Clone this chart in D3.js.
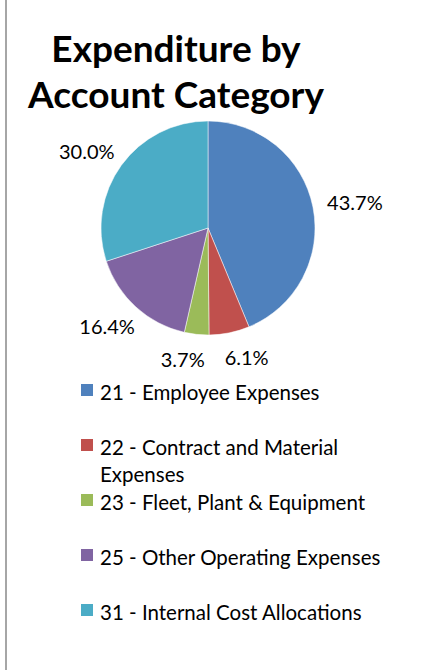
<!DOCTYPE html>
<html>
<head>
<meta charset="utf-8">
<script src="https://cdn.jsdelivr.net/npm/d3@7"></script>
<style>
  body { margin: 0; background: #fff; }
  svg { display: block; }
</style>
</head>
<body>
<div id="chart"></div>
<script>
const categories = [
  '21 - Employee Expenses',
  '22 - Contract and Material Expenses',
  '23 - Fleet, Plant & Equipment',
  '25 - Other Operating Expenses',
  '31 - Internal Cost Allocations'
];
const shares = [43.7, 6.1, 3.7, 16.4, 30.0];
const colors = ['#4F81BD', '#C0504D', '#9BBB59', '#8064A2', '#4BACC6'];
const titleLines = ['Expenditure by', 'Account Category'];

const WIDTH = 425, HEIGHT = 670;
const cx = 208, cy = 228, radius = 107;

const svg = d3.select('#chart')
  .append('svg')
    .attr('width', WIDTH)
    .attr('height', HEIGHT);

// left frame edge
svg.append('line')
  .attr('x1', 6).attr('x2', 6)
  .attr('y1', 0).attr('y2', HEIGHT)
  .attr('stroke', '#a6a6a6')
  .attr('stroke-width', 2);

const title = svg.append('text')
  .attr('text-anchor', 'middle')
  .attr('font-family', 'Lato, sans-serif')
  .attr('font-weight', 'bold')
  .attr('font-size', 37)
  .attr('fill', '#000');

title.selectAll('tspan')
  .data(titleLines)
  .join('tspan')
    .attr('x', 176)
    .attr('y', (d, i) => 62 + i * 46)
    .text(d => d);

const data = categories.map((c, i) => ({ name: c, value: shares[i], color: colors[i] }));

const pie = d3.pie()
  .value(d => d.value)
  .sort(null);

const arcs = pie(data);

const arc = d3.arc()
  .innerRadius(0)
  .outerRadius(radius);

const g = svg.append('g')
  .attr('transform', `translate(${cx}, ${cy})`);

g.selectAll('path')
  .data(arcs)
  .join('path')
    .attr('d', arc)
    .attr('fill', d => d.data.color)
    .attr('stroke', '#fff')
    .attr('stroke-width', 0.5);

// data labels outside the pie
const labels = g.selectAll('text.lbl')
  .data(arcs)
  .join('text')
    .attr('class', 'lbl')
    .attr('font-family', 'Lato, sans-serif')
    .attr('font-size', 20)
    .attr('fill', '#000')
    .attr('text-anchor', 'middle')
    .attr('dominant-baseline', 'central')
    .text(d => d3.format('.1f')(d.data.value) + '%');

const placed = [];
labels.each(function(d) {
  const w = this.getComputedTextLength() / 2;
  const h = 10;
  const mid = (d.startAngle + d.endAngle) / 2;
  const dx = Math.sin(mid), dy = -Math.cos(mid);
  const dist = radius + 15;
  placed.push({
    node: this, w,
    x: dx * (dist + w), y: dy * (dist + h)
  });
});

// push apart labels sitting on the same row
for (let k = 0; k < 5; k++) {
  for (let i = 0; i < placed.length; i++) {
    for (let j = i + 1; j < placed.length; j++) {
      const a = placed[i], b = placed[j];
      if (Math.abs(a.y - b.y) > 18) continue;
      const need = a.w + b.w + 20 - Math.abs(a.x - b.x);
      if (need > 0) {
        const s = a.x < b.x ? -1 : 1;
        a.x += s * need / 2;
        b.x -= s * need / 2;
      }
    }
  }
}
placed.forEach(p => d3.select(p.node).attr('x', p.x).attr('y', p.y));

// legend
const legend = svg.append('g')
  .attr('font-family', 'Lato, sans-serif')
  .attr('font-size', 20.5)
  .attr('fill', '#000');

const items = legend.selectAll('g')
  .data(data)
  .join('g')
    .attr('transform', (d, i) => `translate(81, ${400 + i * 55})`);

items.append('rect')
  .attr('x', 0)
  .attr('y', -16)
  .attr('width', 12)
  .attr('height', 12)
  .attr('fill', d => d.color);

items.append('text')
  .attr('x', 19)
  .attr('y', 0)
  .each(function(d) {
    const t = d3.select(this);
    const words = d.name.split(' ');
    let line = [];
    let tspan = t.append('tspan').attr('x', 19).attr('dy', 0);
    words.forEach(w => {
      line.push(w);
      tspan.text(line.join(' '));
      if (tspan.node().getComputedTextLength() > 295 && line.length > 1) {
        line.pop();
        tspan.text(line.join(' '));
        line = [w];
        tspan = t.append('tspan').attr('x', 19).attr('dy', 26.7).text(w);
      }
    });
  });
</script>
</body>
</html>
